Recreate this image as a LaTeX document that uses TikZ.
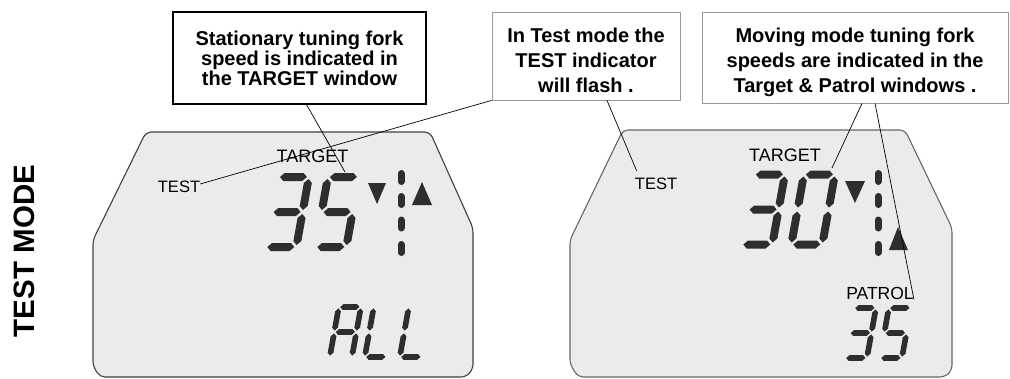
\documentclass[tikz,border=0pt]{standalone}
\usepackage{fontspec}
\setmainfont{Liberation Sans}
\usepackage{tikz}

\tikzset{
  lcd seg/.style={fill=black!82},
  lcd pill/.style={draw=black!82, line width=7pt, line cap=round},
  lcd panel/.style={draw=black!75, line width=1.1pt, fill=black!8, rounded corners=5pt},
  callout/.style={draw, line width=1.2pt, align=center, inner sep=0pt, font=\bfseries\fontsize{20}{20}\selectfont},
  callout light/.style={callout, draw=black!40, line width=0.8pt, font=\bfseries\fontsize{20}{25}\selectfont},
  lcd label/.style={inner sep=0pt, font=\fontsize{18}{18}\selectfont},
  leader/.style={line width=0.7pt},
}

% one bar of a seven segment digit (y grows downward)
\newcommand{\hseg}[3]{\fill[lcd seg] (#1,#3) -- ({#1+4},{#3-4}) -- ({#2-4},{#3-4}) -- (#2,#3) -- ({#2-4},{#3+4}) -- ({#1+4},{#3+4}) -- cycle;}
\newcommand{\vseg}[3]{\fill[lcd seg] (#1,#2) -- ({#1+4},{#2+4}) -- ({#1+4},{#3-4}) -- (#1,#3) -- ({#1-4},{#3-4}) -- ({#1-4},{#2+4}) -- cycle;}
\newcommand{\lcdsega}{\hseg{6.5}{33.5}{-74.5}}
\newcommand{\lcdsegb}{\vseg{35.5}{-72.5}{-41.5}}
\newcommand{\lcdsegc}{\vseg{35.5}{-37.5}{-6.5}}
\newcommand{\lcdsegd}{\hseg{6.5}{33.5}{-4.5}}
\newcommand{\lcdsege}{\vseg{4.5}{-37.5}{-6.5}}
\newcommand{\lcdsegf}{\vseg{4.5}{-72.5}{-41.5}}
\newcommand{\lcdsegg}{\hseg{6.5}{33.5}{-39.5}}
% digit at lower left corner #1, size #2, lit segments #3
\newcommand{\lcddigit}[3]{%
  \begin{scope}[shift={(#1)}, scale=#2, xslant=0.18]
    \foreach \s in {#3} {\csname lcdseg\s\endcsname}
  \end{scope}}

\begin{document}
\begin{tikzpicture}[x=1pt, y=-1pt]
\useasboundingbox (0,0) rectangle (1010,378);

% Side title
\node[rotate=90, inner sep=0pt, font=\bfseries\fontsize{29.5}{29.5}\selectfont] (modetitle) at (24,251) {TEST MODE};

% LCD windows
\draw[lcd panel] (100,377) -- (93,366) -- (93,240) -- (146,132) -- (430,132) -- (473,228) -- (473,369) -- (466,377) -- cycle;
\draw[lcd panel, draw=black!60] (578,377) -- (570,364) -- (570,240) -- (623,130) -- (905,130) -- (952,228) -- (952,370) -- (945,377) -- cycle;

% Left window: 35 and ALL
\lcddigit{260,251.5}{1}{a,b,c,d,g}
\lcddigit{310,251.5}{1}{a,f,g,c,d}
\lcddigit{326,360.2}{0.714}{a,b,c,e,f,g}
\lcddigit{361,360.2}{0.714}{d,e,f}
\lcddigit{396,360.2}{0.714}{d,e,f}

% Right window: 30 and 35
\lcddigit{736,249}{1}{a,b,c,d,g}
\lcddigit{786,249}{1}{a,b,c,d,e,f}
\lcddigit{841,361.2}{0.714}{a,b,c,d,g}
\lcddigit{876,361.2}{0.714}{a,f,g,c,d}

% Direction arrows and bar dots
\fill[lcd seg] (368,183) -- (386,183) -- (377,204) -- cycle;
\fill[lcd seg] (412,205) -- (432,205) -- (422,182) -- cycle;
\fill[lcd seg] (845,181) -- (865,181) -- (855,203) -- cycle;
\fill[lcd seg] (889,250) -- (908,250) -- (898,227) -- cycle;
\foreach \y in {177.5,200.5,224,248.5} {
    \draw[lcd pill] (401,{\y-4}) -- (401,{\y+4});
    \draw[lcd pill] (878,{\y-4}) -- (878,{\y+4});
}

% Window labels
\node[lcd label] (target1) at (312.5,156.5) {TARGET};
\node[lcd label, font=\fontsize{16.5}{16.5}\selectfont] (test1) at (179,187) {TEST};
\node[lcd label] (target2) at (785,155) {TARGET};
\node[lcd label, font=\fontsize{16.5}{16.5}\selectfont] (test2) at (656,184) {TEST};
\node[lcd label, font=\fontsize{17.5}{17.5}\selectfont] (patrol) at (880,293) {PATROL};

% Callouts
\node[callout, minimum width=253pt, minimum height=92pt] (stat) at (299.5,58)
    {Stationary tuning fork\\ speed is indicated in\\ the TARGET window};
\node[callout light, minimum width=188pt, minimum height=88pt] (flash) at (586,56)
    {\rule{0pt}{24pt}In Test mode the\\ TEST indicator\\ will flash .};
\node[callout light, minimum width=306pt, minimum height=91pt] (moving) at (855,57.5)
    {\rule{0pt}{24pt}Moving mode tuning fork\\ speeds are indicated in the\\ Target \& Patrol windows .};

% Leader lines
\coordinate (fivetop) at (345,172);
\coordinate (zeroright) at (832,168);
\draw[leader] ([xshift=7pt]stat.south) -- (fivetop);
\draw[leader] (flash.south west) -- ([yshift=-3pt]test1.north east);
\draw[leader] ([xshift=21pt]flash.south) -- ([shift={(2pt,7pt)}]test2.north west);
\draw[leader] ([xshift=7pt]moving.south) -- (zeroright);
\draw[leader] ([xshift=20pt]moving.south) -- (patrol.south east);
\end{tikzpicture}
\end{document}
